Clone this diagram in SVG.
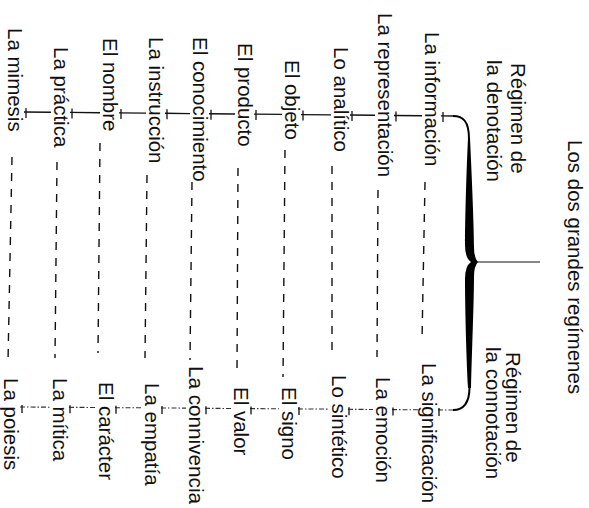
<svg xmlns="http://www.w3.org/2000/svg" width="589" height="508" viewBox="0 0 589 508">
  <style>
    .lbl { font-family: "Liberation Sans", Arial, sans-serif; font-size: 20.5px; fill: #111; }
    .bar { fill: none; stroke: #111; stroke-width: 1.4; }
    .faint { fill: none; stroke: #333; stroke-width: 1.1; stroke-dasharray: 5 2 1.5 2; }
    .tick { fill: none; stroke: #111; stroke-width: 1.3; }
    .dash { fill: none; stroke: #111; stroke-width: 1.4; stroke-dasharray: 8 8; }
    .brace { fill: #000; }
    .arm { fill: none; stroke: #000; stroke-width: 2; }
  </style>
  <rect width="589" height="508" fill="#fff"/>

  <!-- connectors: top rule, bottom rule, per-pair dashed links, brace -->
  <g id="connectors">
    <path class="bar" d="M24,112 L51,112.3 M70,112.4 L100,112.7 M119,112.9 L146,113.1 M165,113.3 L190,113.6 M209,113.7 L235,114 M254,114.1 L282,114.4 M301,114.6 L331,114.9 M350,115 L375,115.3 M394,115.5 L422,115.7 M441,115.9 L453,116"/>
    <path class="tick" d="M26,108 v10 M72,108.4 v10 M121,108.9 v10 M167,109.3 v10 M211,109.7 v10 M256,110.1 v10 M303,110.6 v10 M352,111 v10 M396,111.5 v10 M443,111.9 v10"/>

    <path class="faint" d="M20,407 L50,407.2 M69,407.3 L96,407.5 M115,407.7 L142,407.8 M161,408 L186,408.1 M205,408.3 L231,408.5 M250,408.6 L279,408.8 M298,408.9 L329,409.1 M348,409.3 L373,409.5 M392,409.6 L419,409.8 M438,409.9 L453,410"/>
    <path class="tick" d="M22,405 v8 M70,405.3 v8 M116,405.7 v8 M162,406 v8 M206,406.3 v8 M251,406.6 v8 M299,407 v8 M349,407.3 v8 M393,407.6 v8 M439,407.9 v8"/>

    <path class="dash" d="M12,157 L8,362"/>
    <path class="dash" d="M57,162 L55,358"/>
    <path class="dash" d="M100,143 L98,353"/>
    <path class="dash" d="M147,175 L145,358"/>
    <path class="dash" d="M192,182 L190,360"/>
    <path class="dash" d="M238,168 L237,370"/>
    <path class="dash" d="M285,150 L283,377"/>
    <path class="dash" d="M332,166 L332,353"/>
    <path class="dash" d="M378,190 L377,357"/>
    <path class="dash" d="M425,182 L422,340"/>

    <!-- curly brace joining the two regimes -->
    <path class="arm" d="M453,116 C463,116 469,121 469,139"/>
    <path class="arm" d="M469.5,387 C469.5,404 463,410 453,410"/>
    <path class="brace" d="M470,138 C472,180 474,228 474,247 Q474,258 478,262 Q474,266 474,277 C474,300 472,350 471,388 L468,388 C466,350 465,300 465,279 Q465,266 471,262 Q465,258 465,245 C465,228 466,180 468,138 Z"/>
    <path class="bar" d="M477,262 L540,262" style="stroke-width:1.2"/>
  </g>

  <g id="title"><text class="lbl" transform="translate(568,140) rotate(90)">Los dos grandes regímenes</text></g>

  <g id="regimen-denotacion">
    <text class="lbl" transform="translate(511,63) rotate(90)">Régimen de</text>
    <text class="lbl" transform="translate(487,60) rotate(90)">la denotación</text>
  </g>
  <g id="regimen-connotacion">
    <text class="lbl" transform="translate(506,352) rotate(90)">Régimen de</text>
    <text class="lbl" transform="translate(486,347) rotate(90)">la connotación</text>
  </g>

  <!-- denotation side -->
  <g id="n-mimesis"><text class="lbl" transform="translate(8,28) rotate(90)">La mimesis</text></g>
  <g id="n-practica"><text class="lbl" transform="translate(54,47) rotate(90)">La práctica</text></g>
  <g id="n-nombre"><text class="lbl" transform="translate(103,38) rotate(90)">El nombre</text></g>
  <g id="n-instruccion"><text class="lbl" transform="translate(149,37) rotate(90)">La instrucción</text></g>
  <g id="n-conocimiento"><text class="lbl" transform="translate(193,37) rotate(90)">El conocimiento</text></g>
  <g id="n-producto"><text class="lbl" transform="translate(238,43) rotate(90)">El producto</text></g>
  <g id="n-objeto"><text class="lbl" transform="translate(285,60) rotate(90)">El objeto</text></g>
  <g id="n-analitico"><text class="lbl" transform="translate(334,47) rotate(90)">Lo analítico</text></g>
  <g id="n-representacion"><text class="lbl" transform="translate(378,13) rotate(90)">La representación</text></g>
  <g id="n-informacion"><text class="lbl" transform="translate(425,32) rotate(90)">La información</text></g>

  <!-- connotation side -->
  <g id="n-poiesis"><text class="lbl" transform="translate(4,378) rotate(90)">La poiesis</text></g>
  <g id="n-mitica"><text class="lbl" transform="translate(53,378) rotate(90)">La mítica</text></g>
  <g id="n-caracter"><text class="lbl" transform="translate(99,382) rotate(90)">El carácter</text></g>
  <g id="n-empatia"><text class="lbl" transform="translate(145,383) rotate(90)">La empatía</text></g>
  <g id="n-connivencia"><text class="lbl" transform="translate(189,366) rotate(90)" textLength="138" lengthAdjust="spacingAndGlyphs">La connivencia</text></g>
  <g id="n-valor"><text class="lbl" transform="translate(234,387) rotate(90)">El valor</text></g>
  <g id="n-signo"><text class="lbl" transform="translate(282,387) rotate(90)">El signo</text></g>
  <g id="n-sintetico"><text class="lbl" transform="translate(332,375) rotate(90)">Lo sintético</text></g>
  <g id="n-emocion"><text class="lbl" transform="translate(376,377) rotate(90)">La emoción</text></g>
  <g id="n-significacion"><text class="lbl" transform="translate(422,363) rotate(90)">La significación</text></g>
</svg>
